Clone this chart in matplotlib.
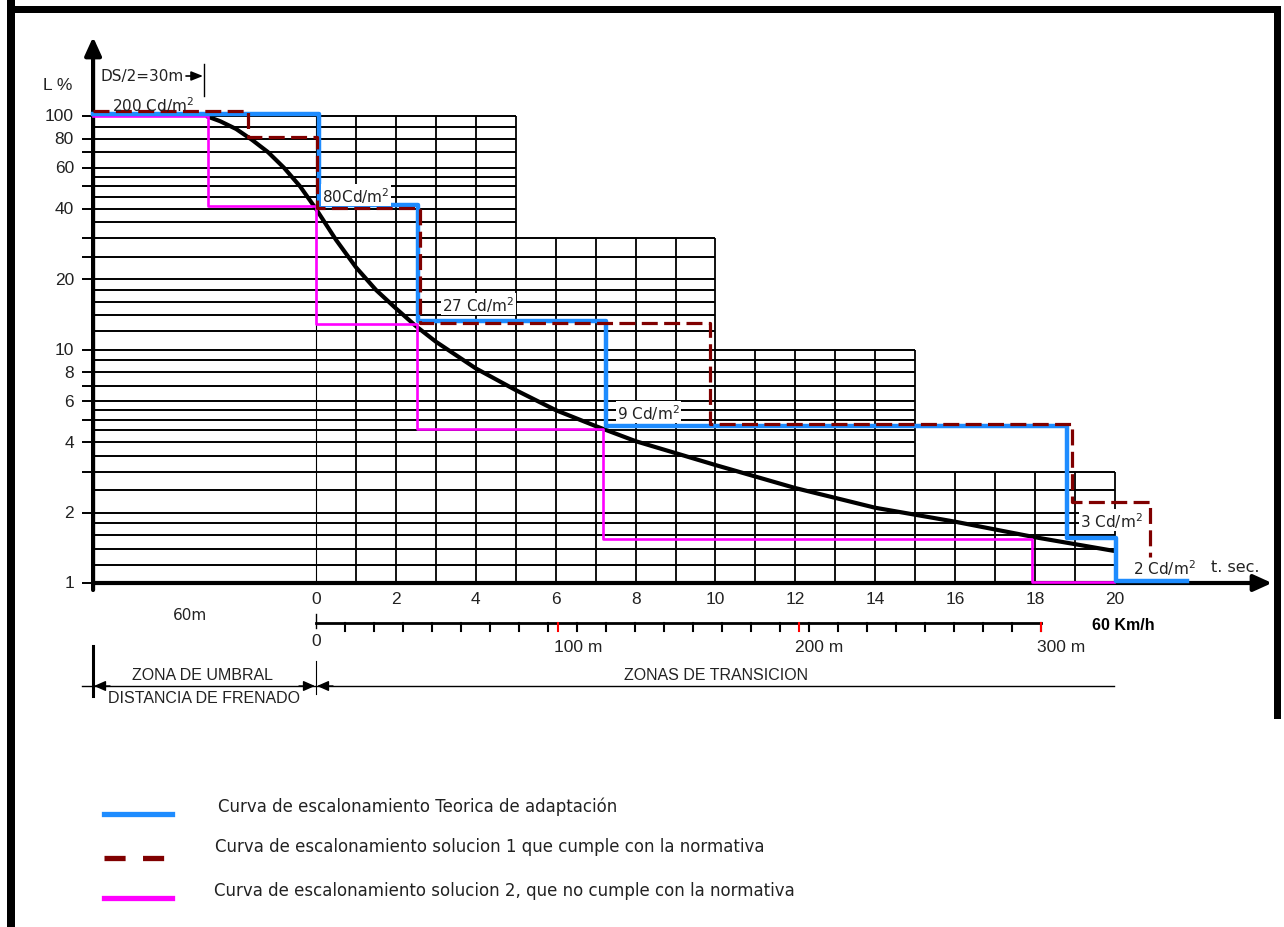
import matplotlib
matplotlib.use("Agg")
import matplotlib.pyplot as plt
from matplotlib.lines import Line2D
from matplotlib.patches import Rectangle
from matplotlib.transforms import blended_transform_factory

# --- datos ---
# niveles de la cuadricula (L %)
grid_levels = [1, 1.2, 1.4, 1.6, 1.8, 2, 2.5, 3, 3.5, 4, 4.5, 5, 5.5, 6, 7, 8, 9,
               10, 12, 14, 16, 18, 20, 25, 30, 35, 40, 45, 50, 55, 60, 70, 80, 90, 100]
tick_levels = [1, 2, 3, 4, 5, 6, 7, 8, 10, 20, 25, 30, 40, 50, 60, 70, 80, 100]
ytick_vals = [1, 2, 4, 6, 8, 10, 20, 40, 60, 80, 100]
# bloques escalonados de la cuadricula (fin en segundos, techo en L %)
block_end_t = [20, 15, 10, 5]
block_top_L = [3, 10, 30, 100]
xtick_vals = [0, 2, 4, 6, 8, 10, 12, 14, 16, 18, 20]
dist_ticks_m = list(range(0, 301, 12))
dist_major_m = [100, 200, 300]
M_TO_S = 18.15 / 300  # escala de distancias (60 km/h)

# curva teorica (negra)
curve_t = [-2.75, -2.4, -2.0, -1.6, -1.2, -0.8, -0.4, 0.0, 0.5, 1.0, 1.5, 2.0, 2.5,
           3.0, 4.0, 5.0, 6.0, 7.0, 8.0, 10.0, 12.0, 14.0, 16.0, 18.0, 20.0]
curve_L = [100, 95, 88, 79, 70, 60, 50, 40, 29.5, 22.5, 18, 15, 12.6,
           10.8, 8.3, 6.7, 5.5, 4.7, 4.05, 3.2, 2.55, 2.1, 1.83, 1.57, 1.37]

# escalones
T_LEFT = -5.58
blue_t = [T_LEFT, 0.08, 2.56, 7.27, 18.8, 20.02, 21.8]
blue_L = [102, 41.5, 13.2, 4.69, 1.56, 1.02, 1.02]
red_t = [T_LEFT, -1.69, 0.03, 2.6, 9.87, 18.92, 20.87]
red_L = [104.8, 81.5, 40.5, 13.0, 4.8, 2.23, 1.29]
mag_t = [T_LEFT, -2.71, 0.0, 2.53, 7.18, 17.93, 19.98]
mag_L = [100, 41, 12.8, 4.58, 1.55, 1.01, 1.01]

legend_texts = [
    "Curva de escalonamiento Teorica de adaptación",
    "Curva de escalonamiento solucion 1 que cumple con la normativa",
    "Curva de escalonamiento solucion 2, que no cumple con la normativa",
]

BLUE = "#1E8CFF"
RED = "#800000"
MAG = "#FF00FF"
ARIAL = ["Liberation Sans", "DejaVu Sans"]
VERD = ["DejaVu Sans"]
TXT = "#222222"

W, H = 1284, 928
X0, PX_S, Y1, DEC = 316, 39.95, 584, 233.5

fig = plt.figure(figsize=(W / 100, H / 100), dpi=100)
ax = fig.add_axes([0, 0, 1, 1])
ax.set_yscale("log")
ax.set_xlim(-X0 / PX_S, (W - X0) / PX_S)
ax.set_ylim(10 ** (-(H - Y1) / DEC), 10 ** (Y1 / DEC))
ax.axis("off")


def fy(py):
    return 1 - py / H


def tx(px):
    return (px - X0) / PX_S


def ly(py):
    return 10 ** ((Y1 - py) / DEC)


tb = blended_transform_factory(ax.transData, fig.transFigure)

# cuadricula
for v in grid_levels:
    end = next(e for e, top in zip(block_end_t, block_top_L) if v <= top)
    start = tx(82) if v in tick_levels else T_LEFT
    ax.hlines(v, start, end, color="k", lw=1.4, zorder=1)
for t in range(0, 21):
    top = max(top for e, top in zip(block_end_t, block_top_L) if e - 5 <= t <= e)
    ax.vlines(t, 1, top, color="k", lw=0.8 if t == 0 else 1.3, zorder=1)

# ejes con flecha
arr = dict(arrowstyle="-|>,head_length=0.55,head_width=0.25", color="k", lw=3,
           mutation_scale=20, shrinkA=0, shrinkB=0)
ax.annotate("", xy=(tx(1272), 1), xytext=(T_LEFT, 1), arrowprops=arr, zorder=3)
ax.annotate("", xy=(T_LEFT, ly(38)), xytext=(T_LEFT, ly(591)), arrowprops=arr, zorder=3)

# curvas
ax.plot(curve_t, curve_L, color="k", lw=3, zorder=4, solid_capstyle="butt")
ax.step(mag_t, mag_L, where="post", color=MAG, lw=1.9, zorder=5)
ax.step(blue_t, blue_L, where="post", color=BLUE, lw=3.2, zorder=6)
ax.step(red_t, red_L, where="post", color=RED, lw=2.3, ls=(0, (5, 2)), zorder=7)

# etiquetas eje y
for v in ytick_vals:
    ax.text(tx(74), v, str(v), ha="right", va="center", fontsize=12.5,
            family=ARIAL, color=TXT)
ax.text(tx(43), fy(85), "L %", transform=tb, ha="left", va="center",
        fontsize=12.5, family=ARIAL, color=TXT)

# etiquetas eje x
for v in xtick_vals:
    ax.text(v, fy(600), str(v), transform=tb, ha="center", va="center",
            fontsize=12.5, family=ARIAL, color=TXT)
ax.text(tx(1211), fy(568), "t. sec.", transform=tb, ha="left", va="center",
        fontsize=11.5, family=VERD, color=TXT)

# DS/2
ax.text(tx(101), fy(77), "DS/2=30m", transform=tb, ha="left", va="center",
        fontsize=11, family=VERD, color=TXT)
ax.annotate("", xy=(tx(203), fy(77)), xytext=(tx(186), fy(77)), xycoords=tb,
            textcoords=tb, arrowprops=dict(arrowstyle="-|>,head_length=0.5,head_width=0.2",
                                           color="k", lw=1.2, mutation_scale=14,
                                           shrinkA=0, shrinkB=0))
ax.plot([tx(204)] * 2, [fy(65), fy(97)], transform=tb, color="k", lw=1)

# etiquetas de nivel
labels = [("200 Cd/m$^2$", 112, 105, False), ("80Cd/m$^2$", 322, 196, True),
          ("27 Cd/m$^2$", 442, 305, True), ("9 Cd/m$^2$", 617, 413, True),
          ("3 Cd/m$^2$", 1080, 521, True), ("2 Cd/m$^2$", 1133, 568, False)]
for s, px, py, box in labels:
    kw = dict(bbox=dict(fc="white", ec="none", pad=1)) if box else {}
    ax.text(tx(px), fy(py), s, transform=tb, ha="left", va="center",
            fontsize=11, family=VERD, color=TXT, zorder=8, **kw)

# escala de distancias
ax.text(tx(190), fy(615), "60m", transform=tb, ha="center", va="center",
        fontsize=11, family=VERD, color=TXT)
ax.plot([0, 300 * M_TO_S], [fy(624)] * 2, transform=tb, color="k", lw=2)
ax.plot([0, 0], [fy(615), fy(629)], transform=tb, color="k", lw=1)
for d in dist_ticks_m[1:]:
    ax.plot([d * M_TO_S] * 2, [fy(624), fy(632)], transform=tb, color="k", lw=1.5)
for d in dist_major_m:
    ax.plot([d * M_TO_S] * 2, [fy(624), fy(632)], transform=tb, color="red", lw=1.5)
    ax.text(d * M_TO_S - 0.1, fy(648), f"{d} m", transform=tb, ha="left",
            va="center", fontsize=12.5, family=ARIAL, color=TXT)
ax.text(0, fy(642), "0", transform=tb, ha="center", va="center",
        fontsize=12.5, family=ARIAL, color=TXT)
ax.text(tx(1092), fy(626), "60 Km/h", transform=tb, ha="left", va="center",
        fontsize=11.5, family=ARIAL, weight="bold", color="k")

# zonas
ax.plot([tx(82), tx(1114)], [fy(687)] * 2, transform=tb, color="k", lw=1)
ax.plot([T_LEFT] * 2, [fy(647), fy(697)], transform=tb, color="k", lw=2.2)
ax.plot([0, 0], [fy(662), fy(695)], transform=tb, color="k", lw=0.8)
small = dict(arrowstyle="-|>,head_length=0.5,head_width=0.22", color="k", lw=1,
             mutation_scale=14, shrinkA=0, shrinkB=0)
ax.annotate("", xy=(tx(94), fy(687)), xytext=(tx(110), fy(687)), xycoords=tb,
            textcoords=tb, arrowprops=small)
ax.annotate("", xy=(tx(315), fy(687)), xytext=(tx(299), fy(687)), xycoords=tb,
            textcoords=tb, arrowprops=small)
ax.annotate("", xy=(tx(317), fy(687)), xytext=(tx(333), fy(687)), xycoords=tb,
            textcoords=tb, arrowprops=small)
ax.text(tx(203), fy(676), "ZONA DE UMBRAL", transform=tb, ha="center", va="center",
        fontsize=11.5, family=ARIAL, color=TXT)
ax.text(tx(204), fy(699), "DISTANCIA DE FRENADO", transform=tb, ha="center",
        va="center", fontsize=11.5, family=ARIAL, color=TXT)
ax.text(tx(716), fy(676), "ZONAS DE TRANSICION", transform=tb, ha="center",
        va="center", fontsize=11.5, family=ARIAL, color=TXT)

# leyenda
leg_styles = [dict(color=BLUE, lw=3.8), dict(color=RED, lw=3.8, ls=(0, (4, 3.3))),
              dict(color=MAG, lw=3.8)]
leg_line_y = [815, 859, 899]
leg_text_y = [807, 847, 891]
leg_text_x = [218, 215, 214]
for s, st, ly_, ty, txx in zip(legend_texts, leg_styles, leg_line_y, leg_text_y, leg_text_x):
    fig.add_artist(Line2D([104 / W, 172 / W], [fy(ly_)] * 2, **st))
    fig.text(txx / W, fy(ty), s, ha="left", va="center", fontsize=12,
             family=VERD, color=TXT)

# marco
for x, y, w, h in [(7, 0, 8, 928), (7, 7, 1274, 7), (1274, 7, 7, 713)]:
    fig.add_artist(Rectangle((x / W, fy(y + h)), w / W, h / H,
                             transform=fig.transFigure, color="k", lw=0))

fig.savefig("out.png", dpi=100)
